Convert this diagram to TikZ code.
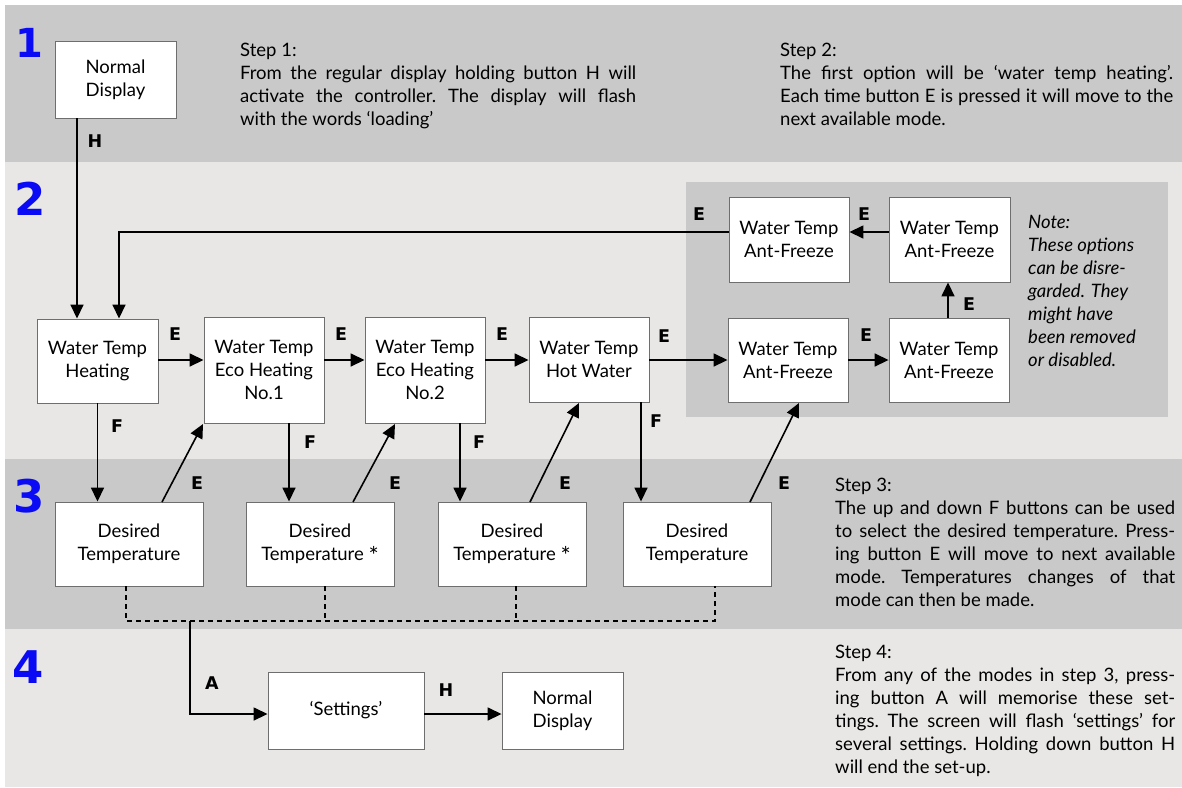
\documentclass[tikz,border=0pt]{standalone}
\usepackage{fontspec}
\setmainfont{Lato}
\newfontfamily\numfont{DejaVu Sans}
\usetikzlibrary{arrows.meta}

\definecolor{banddark}{HTML}{C9C9C9}
\definecolor{bandlight}{HTML}{E8E7E5}
\definecolor{numblue}{HTML}{0A0AF5}
\definecolor{boxedge}{HTML}{6E6E6E}

% one justified line of a text block, and one plain line
\newcommand\justline[2]{\hbox{\makebox[#1][s]{#2}}}
\newcommand\plainline[1]{\hbox{#1}}
% footnote-style star set at mid height
\newcommand\midstar{\raisebox{-0.45ex}{\fontsize{24}{24}\selectfont *}}

\tikzset{
  x=1pt, y=-1pt,
  modebox/.style={draw=boxedge, line width=0.9pt, fill=white, align=center,
    inner sep=0pt, font=\fontsize{18.5}{23}\selectfont},
  flow/.style={line width=1.6pt, -{Triangle[length=14pt,width=13pt]}},
  dashlink/.style={line width=1.3pt, dash pattern=on 5pt off 4pt},
  key/.style={font=\numfont\bfseries\fontsize{17.5}{17.5}\selectfont, inner sep=0pt},
  stepnum/.style={font=\numfont\bfseries\fontsize{45}{45}\selectfont,
    text=numblue, anchor=base west, inner sep=0pt},
  prose/.style={anchor=base west, inner sep=0pt,
    font=\frenchspacing\fontsize{18.5}{23}\selectfont}
}

\begin{document}
\begin{tikzpicture}
\useasboundingbox (0,0) rectangle (1182,787);

% background bands
\fill[white] (0,0) rectangle (1182,787);
\fill[banddark]  (5,5)   rectangle (1182,162);
\fill[bandlight] (5,162) rectangle (1182,459);
\fill[banddark]  (5,459) rectangle (1182,629);
\fill[bandlight] (5,629) rectangle (1182,787);
\fill[banddark]  (686,182) rectangle (1168,417);

% step numbers
\node[stepnum, font=\numfont\bfseries\fontsize{40}{40}\selectfont] (n1) at (15,57) {1};
\node[stepnum] (n2) at (14,215) {2};
\node[stepnum] (n3) at (13,512) {3};
\node[stepnum] (n4) at (12,683) {4};

% mode boxes
\node[modebox, minimum width=121pt, minimum height=77pt]  (nd1)  at (115.5,79.5) {Normal\\Display};
\node[modebox, minimum width=121pt, minimum height=84pt]  (heat) at (97.5,361)   {Water Temp\\Heating};
\node[modebox, minimum width=120pt, minimum height=106pt] (eco1) at (264,370)    {Water Temp\\Eco Heating\\No.1};
\node[modebox, minimum width=120pt, minimum height=106pt] (eco2) at (425,370)    {Water Temp\\Eco Heating\\No.2};
\node[modebox, minimum width=120pt, minimum height=85pt]  (hot)  at (589,359.5)  {Water Temp\\Hot Water};
\node[modebox, minimum width=120pt, minimum height=84pt]  (afa)  at (788,360)    {Water Temp\\Ant-Freeze};
\node[modebox, minimum width=120pt, minimum height=84pt]  (afb)  at (949,360)    {Water Temp\\Ant-Freeze};
\node[modebox, minimum width=121pt, minimum height=85pt]  (afc)  at (949.5,239.5){Water Temp\\Ant-Freeze};
\node[modebox, minimum width=120pt, minimum height=85pt]  (afd)  at (789,239.5)  {Water Temp\\Ant-Freeze};

\node[modebox, minimum width=148pt, minimum height=84pt] (dt1) at (129,544) {Desired\\Temperature};
\node[modebox, minimum width=148pt, minimum height=84pt] (dt2) at (320,544) {Desired\\Temperature \midstar};
\node[modebox, minimum width=148pt, minimum height=84pt] (dt3) at (512,544) {Desired\\Temperature \midstar};
\node[modebox, minimum width=148pt, minimum height=84pt] (dt4) at (697,544) {Desired\\Temperature};

\node[modebox, minimum width=156pt, minimum height=77pt] (set) at (346,710.5)   {`Settings'};
\node[modebox, minimum width=121pt, minimum height=77pt] (nd2) at (562.5,710.5) {Normal\\Display};

% routing points
\coordinate (hx)   at (77,0);
\coordinate (rx)   at (119,0);
\coordinate (ry)   at (0,232);
\coordinate (ey)   at (0,360);
\coordinate (f1)   at (289,0);
\coordinate (f2)   at (460,0);
\coordinate (f3)   at (641,0);
\coordinate (upx)  at (948,0);
\coordinate (djoin) at (190,621);
\coordinate (ay)   at (0,714);

% step 2 chain
\draw[flow] (nd1.south -| hx) -- (heat.north -| hx);
\draw[flow] (afd.west |- ry) -- (ry -| rx) -- (heat.north -| rx);
\draw[flow] (heat.east |- ey) -- (eco1.west |- ey);
\draw[flow] (eco1.east |- ey) -- (eco2.west |- ey);
\draw[flow] (eco2.east |- ey) -- (hot.west |- ey);
\draw[flow] (hot.east |- ey) -- (afa.west |- ey);
\draw[flow] (afa.east) -- (afb.west);
\draw[flow] (afb.north -| upx) -- (afc.south -| upx);
\draw[flow] (afc.west |- ry) -- (afd.east |- ry);

% F: into the temperature setting
\draw[flow] (heat.south) -- (dt1.north -| heat.south);
\draw[flow] (eco1.south -| f1) -- (dt2.north -| f1);
\draw[flow] (eco2.south -| f2) -- (dt3.north -| f2);
\draw[flow] (hot.south -| f3) -- (dt4.north -| f3);

% E: on to the next mode
\coordinate (d1s) at (162,502); \coordinate (d1e) at (203,424);
\coordinate (d2s) at (353,502); \coordinate (d2e) at (395,424);
\coordinate (d3s) at (530,502); \coordinate (d3e) at (579,403);
\coordinate (d4s) at (750,502); \coordinate (d4e) at (799,403);
\draw[flow] (d1s) -- (d1e);
\draw[flow] (d2s) -- (d2e);
\draw[flow] (d3s) -- (d3e);
\draw[flow] (d4s) -- (d4e);

% A: from any setting to the memorised settings
\draw[dashlink] (dt1.south -| 126,0) -- (126,621) -- (715,621) -- (dt4.south -| 715,0);
\draw[dashlink] (dt2.south -| 325,0) -- (325,621);
\draw[dashlink] (dt3.south -| 516,0) -- (516,621);
\draw[flow] (djoin) -- (djoin |- ay) -- (set.west |- ay);
\draw[flow] (set.east |- ay) -- (nd2.west |- ay);

% button labels
\node[key] (kh1) at (95,141) {H};
\node[key] (ke1) at (175,334) {E};
\node[key] (ke2) at (341,334) {E};
\node[key] (ke3) at (502,334) {E};
\node[key] (ke4) at (664,336) {E};
\node[key] (ke5) at (866,335) {E};
\node[key] (ke6) at (969,304) {E};
\node[key] (ke7) at (864,214) {E};
\node[key] (ke8) at (699,214) {E};
\node[key] (kf1) at (117,426) {F};
\node[key] (kf2) at (310,442) {F};
\node[key] (kf3) at (479,442) {F};
\node[key] (kf4) at (656,421) {F};
\node[key] (kd1) at (197,483) {E};
\node[key] (kd2) at (395,483) {E};
\node[key] (kd3) at (565,483) {E};
\node[key] (kd4) at (784,483) {E};
\node[key] (ka)  at (212,683) {A};
\node[key] (kh2) at (446,690) {H};

% explanatory text
\node[prose] (s1) at (240,56) {\vtop{\baselineskip=23pt
  \plainline{Step 1:}
  \justline{396pt}{From the regular display holding button H will}
  \justline{396pt}{activate the controller. The display will flash}
  \plainline{with the words `loading'}}};

\node[prose] (s2) at (780,56) {\vtop{\baselineskip=23pt
  \plainline{Step 2:}
  \justline{393pt}{The first option will be `water temp heating'.}
  \justline{393pt}{Each time button E is pressed it will move to the}
  \plainline{next available mode.}}};

\node[prose] (s3) at (835,491) {\vtop{\baselineskip=23pt
  \plainline{Step 3:}
  \justline{340pt}{The up and down F buttons can be used}
  \justline{340pt}{to select the desired temperature. Press-}
  \justline{340pt}{ing button E will move to next available}
  \justline{340pt}{mode. Temperatures changes of that}
  \plainline{mode can then be made.}}};

\node[prose] (s4) at (835,658) {\vtop{\baselineskip=23pt
  \plainline{Step 4:}
  \justline{340pt}{From any of the modes in step 3, press-}
  \justline{340pt}{ing button A will memorise these set-}
  \justline{340pt}{tings. The screen will flash `settings' for}
  \justline{340pt}{several settings. Holding down button H}
  \plainline{will end the set-up.}}};

\node[prose, font=\itshape\fontsize{18.5}{23}\selectfont] (note) at (1028,228) {\vtop{\baselineskip=23pt
  \plainline{Note:}
  \plainline{These options}
  \plainline{can be disre-}
  \plainline{garded. They}
  \plainline{might have}
  \plainline{been removed}
  \plainline{or disabled.}}};
\end{tikzpicture}
\end{document}
